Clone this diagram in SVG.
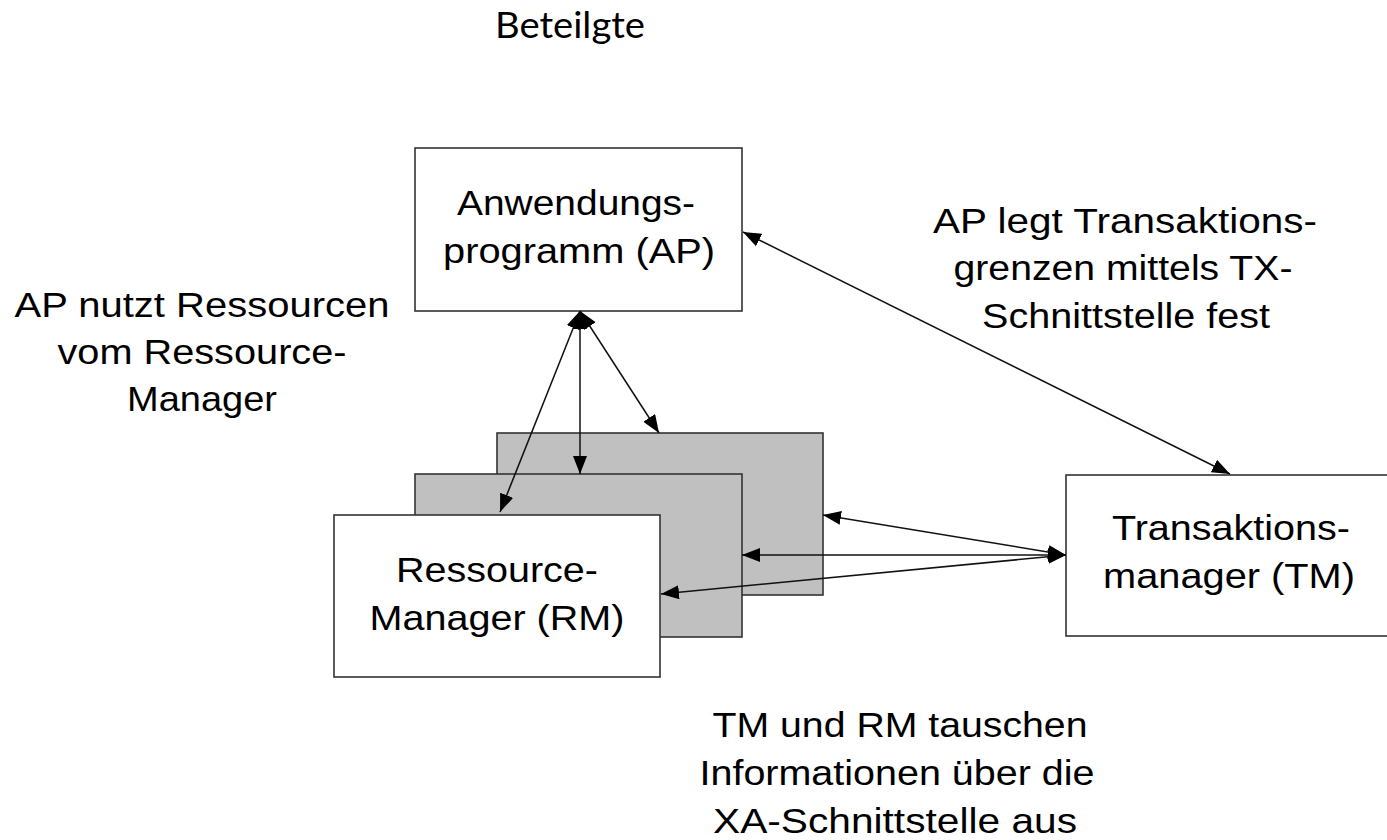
<svg xmlns="http://www.w3.org/2000/svg" width="1387" height="840" viewBox="0 0 1387 840">
<style>
.box{fill:#fff;stroke:#333;stroke-width:1.6}
.gray{fill:#c0c0c0;stroke:#333;stroke-width:1.6}
.t{font-family:"Liberation Sans",Arial,sans-serif;font-size:35px;fill:#000;text-anchor:middle}
.title{font-family:Lato,"Open Sans",sans-serif;font-size:36px;fill:#000;text-anchor:middle}
.c{stroke:#111;stroke-width:1.5;fill:none;marker-start:url(#ah);marker-end:url(#ah)}
</style>
<defs>
<marker id="ah" viewBox="0 0 18 14" refX="18" refY="7" markerWidth="18" markerHeight="14" markerUnits="userSpaceOnUse" orient="auto-start-reverse">
<path d="M0,0 L18,7 L0,14 z" fill="#000"/>
</marker>
</defs>
<rect width="1387" height="840" fill="#fff"/>
<text class="title" x="570" y="38" textLength="150" lengthAdjust="spacingAndGlyphs">Beteilgte</text>

<g id="rm-back">
<rect class="gray" x="497" y="433" width="326" height="162"/>
</g>
<g id="rm-middle">
<rect class="gray" x="415" y="474" width="327" height="163"/>
</g>
<g id="rm">
<rect class="box" x="334" y="515" width="326" height="162"/>
<text class="t" x="497" y="582" textLength="202" lengthAdjust="spacingAndGlyphs">Ressource-</text>
<text class="t" x="497" y="630" textLength="255" lengthAdjust="spacingAndGlyphs">Manager (RM)</text>
</g>
<g id="ap">
<rect class="box" x="415" y="148" width="327" height="163"/>
<text class="t" x="576" y="215" textLength="238" lengthAdjust="spacingAndGlyphs">Anwendungs-</text>
<text class="t" x="579" y="263" textLength="272" lengthAdjust="spacingAndGlyphs">programm (AP)</text>
</g>
<g id="tm">
<rect class="box" x="1066" y="475" width="330" height="161"/>
<text class="t" x="1231" y="540" textLength="238" lengthAdjust="spacingAndGlyphs">Transaktions-</text>
<text class="t" x="1229" y="588" textLength="252" lengthAdjust="spacingAndGlyphs">manager (TM)</text>
</g>

<g id="connectors">
<line class="c" x1="743" y1="232" x2="1230" y2="474"/>
<line class="c" x1="580" y1="311" x2="500" y2="512"/>
<line class="c" x1="580" y1="311" x2="580" y2="474"/>
<line class="c" x1="580" y1="311" x2="659" y2="433"/>
<line class="c" x1="1066" y1="555" x2="823" y2="515"/>
<line class="c" x1="1066" y1="555" x2="742" y2="555"/>
<line class="c" x1="1066" y1="555" x2="661" y2="594"/>
</g>

<g id="labels">
<text class="t" x="202" y="317" textLength="375" lengthAdjust="spacingAndGlyphs">AP nutzt Ressourcen</text>
<text class="t" x="202" y="364" textLength="289" lengthAdjust="spacingAndGlyphs">vom Ressource-</text>
<text class="t" x="202" y="411" textLength="150" lengthAdjust="spacingAndGlyphs">Manager</text>
<text class="t" x="1125" y="233" textLength="384" lengthAdjust="spacingAndGlyphs">AP legt Transaktions-</text>
<text class="t" x="1123" y="280" textLength="339" lengthAdjust="spacingAndGlyphs">grenzen mittels TX-</text>
<text class="t" x="1126" y="328" textLength="288" lengthAdjust="spacingAndGlyphs">Schnittstelle fest</text>
<text class="t" x="900" y="737" textLength="375" lengthAdjust="spacingAndGlyphs">TM und RM tauschen</text>
<text class="t" x="897" y="785" textLength="395" lengthAdjust="spacingAndGlyphs">Informationen über die</text>
<text class="t" x="895" y="833" textLength="364" lengthAdjust="spacingAndGlyphs">XA-Schnittstelle aus</text>
</g>
</svg>
